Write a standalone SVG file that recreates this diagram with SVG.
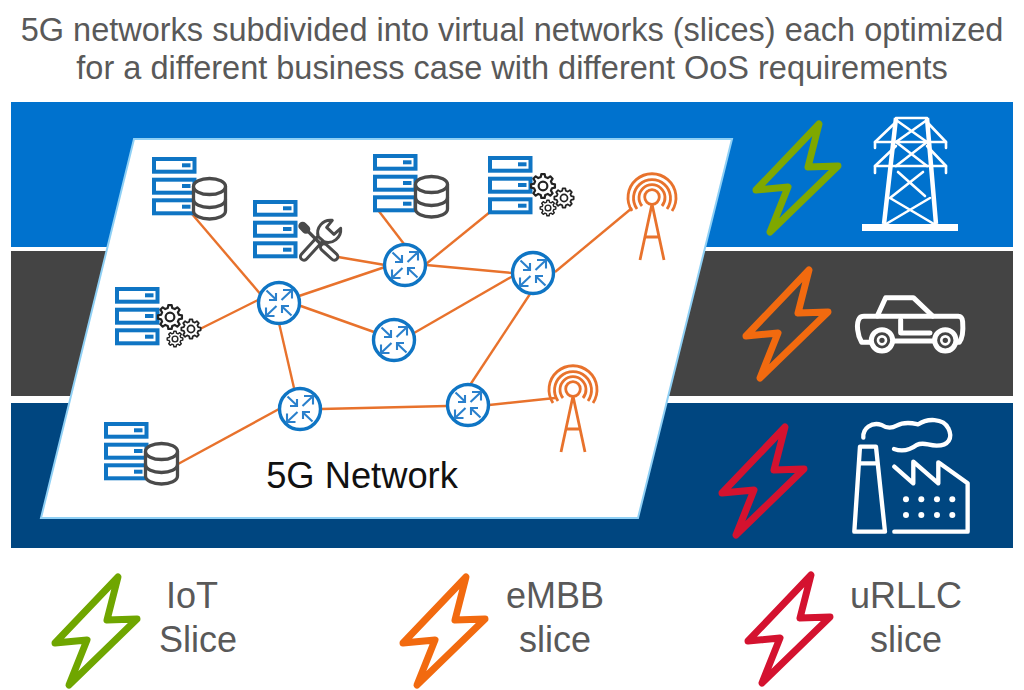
<svg xmlns="http://www.w3.org/2000/svg" width="1024" height="690" viewBox="0 0 1024 690">
<style>
text{font-family:"Liberation Sans",Arial,sans-serif;fill:#595959}
.srv rect.o{fill:#fff;stroke:#0f75c4;stroke-width:4}
.srv rect.l{fill:#0f75c4;stroke:none}
.db{fill:#fff;stroke:#4a4a4a;stroke-width:3.300}
.gear{fill:#fff;stroke:#222;stroke-width:1.900;stroke-linejoin:round}
.link{stroke:#e8722c;stroke-width:2.400;fill:none}
.rt circle{fill:#fff;stroke:#0f75c4;stroke-width:3.400}
.rt path{fill:none;stroke:#2a80cc;stroke-width:2.100}
.ant{fill:none;stroke:#e8722c;stroke-width:2.800}
.bolt{fill:none;stroke-width:7;stroke-linejoin:round}
.w{fill:none;stroke:#fff;stroke-linejoin:round;stroke-linecap:round}
</style>
<defs>
<path id="boltp" d="M0 0L-11 43L19 42L-49 108L-31 63L-63 66Z"/>
<g id="server" class="srv">
<rect class="o" x="2" y="2" width="40.500" height="12.700"/><rect class="l" x="30" y="6.300" width="8.500" height="4"/>
<rect class="o" x="2" y="22.700" width="40.500" height="13"/><rect class="l" x="30" y="27" width="8.500" height="4"/>
<rect class="o" x="2" y="43.300" width="40.500" height="13"/><rect class="l" x="30" y="47.700" width="8.500" height="4"/>
</g>
<g id="db" class="db">
<path d="M1.500 9.500V34C1.500 38.800 9 42 17.500 42S33.500 38.800 33.500 34V9.500"/>
<ellipse cx="17.500" cy="9.500" rx="16" ry="8"/>
<path d="M1.500 22.500C1.500 27.300 9 30.500 17.500 30.500S33.500 27.300 33.500 22.500" fill="none"/>
</g>
<g id="g" class="gear">
<polygon points="7.760,-1.940 10.400,-1.460 10.400,1.460 7.760,1.940 6.860,4.120 8.390,6.320 6.320,8.390 4.120,6.860 1.940,7.760 1.460,10.400 -1.460,10.400 -1.940,7.760 -4.120,6.860 -6.320,8.390 -8.390,6.320 -6.860,4.120 -7.760,1.940 -10.400,1.460 -10.400,-1.460 -7.760,-1.940 -6.860,-4.120 -8.390,-6.320 -6.320,-8.390 -4.120,-6.860 -1.940,-7.760 -1.460,-10.400 1.460,-10.400 1.940,-7.760 4.120,-6.860 6.320,-8.390 8.390,-6.320 6.860,-4.120"/>
<circle r="3.800"/>
</g>
<g id="gears">
<use href="#g" transform="translate(60,52) scale(.75)"/>
<use href="#g" transform="translate(55,30) scale(1.150)"/>
<use href="#g" transform="translate(76,42) scale(.93)"/>
</g>
<g id="router" class="rt">
<circle r="20.500"/>
<path d="M-12.500-12.500L-2.500-3M-3-10V-3H-10M12.500-12.500L2.500-3M4-13H13V-4.500M-12.500 12.500L-2.500 3M-13 4.500V13H-4.500M12.500 12.500L2.500 3M3 10V3H10"/>
</g>
<g id="antenna" class="ant">
<circle cx="0" cy="0" r="7.300"/>
<path d="M-10 9A13 13 0 1 1 10 9M-15 12A18.500 18.500 0 1 1 15 12M-20 14A24 24 0 1 1 20 14"/>
<path d="M-12 63L0 7L12 63M-7 40H7"/>
</g>
</defs>

<g id="title">
<text x="512" y="41" font-size="32.500" text-anchor="middle">5G networks subdivided into virtual networks (slices) each optimized</text>
<text x="512" y="79" font-size="32.500" text-anchor="middle">for a different business case with different OoS requirements</text>
</g>

<g id="bands">
<rect x="11" y="102" width="1002" height="145" fill="#0072ce"/>
<rect x="11" y="251" width="1002" height="145" fill="#444444"/>
<rect x="11" y="403" width="1002" height="145" fill="#004680"/>
</g>

<polygon id="network-plane" points="134,139 732,139 638,518 41,518" fill="#fff" stroke="#8fd0f5" stroke-width="2"/>

<g id="connectors" class="link">
<path d="M192 214L262 296"/>
<path d="M198 330L258 300"/>
<path d="M338 257L385 265"/>
<path d="M299 296L385 267"/>
<path d="M298 305L374 332"/>
<path d="M378 210L404 244"/>
<path d="M490 212L426 264"/>
<path d="M426 265L512 273"/>
<path d="M414 333L513 276"/>
<path d="M555 272L632 208"/>
<path d="M279 323L294 388"/>
<path d="M530 294L470 385"/>
<path d="M178 464L279 409"/>
<path d="M321 409L447 406"/>
<path d="M489 405L555 398"/>
</g>

<g id="server-db-1"><use href="#server" x="152" y="157"/><use href="#db" x="192" y="177"/></g>
<g id="server-tools">
<use href="#server" x="253" y="200"/>
<g transform="translate(100,140) scale(.3333)" stroke-linejoin="round" stroke-linecap="round" fill="none">
<path d="M662 295L612 350" stroke="#4a4a4a" stroke-width="30"/>
<path d="M662 295L612 350" stroke="#fff" stroke-width="12"/>
<path d="M697 241A38 38 0 0 0 655 290L672 305A38 38 0 0 0 722 265L702 283L680 262Z" fill="#fff" stroke="#4a4a4a" stroke-width="9"/>
<path d="M610 260L662 312" stroke="#4a4a4a" stroke-width="10"/>
<path d="M608 258L618 268" stroke="#4a4a4a" stroke-width="26"/>
<path d="M672 322L703 350" stroke="#4a4a4a" stroke-width="30"/>
<path d="M672 322L703 350" stroke="#fff" stroke-width="12"/>
</g>
</g>
<g id="server-gears-1"><use href="#server" x="115" y="287"/><use href="#gears" x="115" y="287"/></g>
<g id="server-db-2"><use href="#server" x="373" y="154"/><use href="#db" x="414" y="175"/></g>
<g id="server-gears-2"><use href="#server" x="488" y="156"/><use href="#gears" x="488" y="156"/></g>
<g id="server-db-3"><use href="#server" x="104" y="422"/><use href="#db" x="144" y="442"/></g>

<g id="router-1"><use href="#router" x="279" y="303"/></g>
<g id="router-2"><use href="#router" x="405" y="265"/></g>
<g id="router-3"><use href="#router" x="533" y="273"/></g>
<g id="router-4"><use href="#router" x="394" y="340"/></g>
<g id="router-5"><use href="#router" x="300" y="409"/></g>
<g id="router-6"><use href="#router" x="468" y="405"/></g>

<g id="antenna-1"><use href="#antenna" x="652" y="197"/></g>
<g id="antenna-2"><use href="#antenna" x="573" y="389"/></g>

<text id="network-label" x="362" y="488" font-size="36.300" text-anchor="middle" style="fill:#111">5G Network</text>

<g id="bolt-green"><use href="#boltp" x="819" y="124" class="bolt" stroke="#7fa800"/></g>
<g id="bolt-orange"><use href="#boltp" x="809" y="270" class="bolt" stroke="#f26a0f"/></g>
<g id="bolt-red"><use href="#boltp" x="785" y="427" class="bolt" stroke="#d4122f"/></g>

<g id="tower" class="w" stroke-width="2.600">
<rect x="862" y="224" width="96" height="7" fill="#fff" stroke="none"/>
<path d="M896 118L884 224M927 118L936 224" stroke-width="4.500" stroke-linecap="butt"/>
<path d="M896 118H927M875 142H946M875 166H946M875 142V148M946 142V148M875 166V173M946 166V173"/>
<path d="M896 122L875 142M927 122L946 142M896 146L875 166M927 146L946 166"/>
<path d="M896 120L927 142M927 120L896 142M896 142L927 166M927 142L896 166"/>
<path d="M898 172L925 196M923 172L890 198M890 198L934 224M930 198L886 224"/>
</g>

<g id="car" class="w" transform="translate(710,255) scale(.3333)" stroke-width="15">
<path d="M502 183L527 128H610L668 183"/>
<path d="M486 262H455C442 240 438 205 448 190Q452 184 462 184H745C755 184 757 190 758 200C760 225 757 250 748 262H735M550 258H675"/>
<path d="M572 195V234H660"/>
<circle cx="516" cy="256" r="32" fill="#444"/><circle cx="516" cy="256" r="12" stroke-width="8"/>
<circle cx="706" cy="256" r="32" fill="#444"/><circle cx="706" cy="256" r="12" stroke-width="8"/>
</g>

<g id="factory" class="w" transform="translate(710,255) scale(.3333)" stroke-width="13">
<path d="M460 548C458 520 485 500 515 510C530 520 545 520 560 512C585 498 610 505 625 508C650 490 700 488 715 520C730 550 715 572 680 572C650 570 640 560 620 570C600 585 575 590 552 582"/>
<path d="M450 575H498L525 830H433ZM447 625H502"/>
<path d="M553 635L610 685V620L685 685V622L773 685V830H553"/>
<g fill="#fff" stroke="none">
<circle cx="588" cy="733" r="9"/><circle cx="634" cy="733" r="9"/><circle cx="681" cy="733" r="9"/><circle cx="727" cy="733" r="9"/>
<circle cx="588" cy="780" r="9"/><circle cx="634" cy="780" r="9"/><circle cx="681" cy="780" r="9"/><circle cx="727" cy="780" r="9"/>
</g>
</g>

<g id="legend-iot"><use href="#boltp" x="118" y="577" class="bolt" stroke="#6fa600"/>
<text x="192" y="608" font-size="36" text-anchor="middle">IoT</text><text x="198" y="652" font-size="36" text-anchor="middle">Slice</text></g>
<g id="legend-embb"><use href="#boltp" x="466" y="577" class="bolt" stroke="#f26a0f"/>
<text x="555" y="608" font-size="36" text-anchor="middle">eMBB</text><text x="555" y="652" font-size="36" text-anchor="middle">slice</text></g>
<g id="legend-urllc"><use href="#boltp" x="811" y="575" class="bolt" stroke="#d4122f"/>
<text x="906" y="608" font-size="36" text-anchor="middle">uRLLC</text><text x="906" y="652" font-size="36" text-anchor="middle">slice</text></g>
</svg>
